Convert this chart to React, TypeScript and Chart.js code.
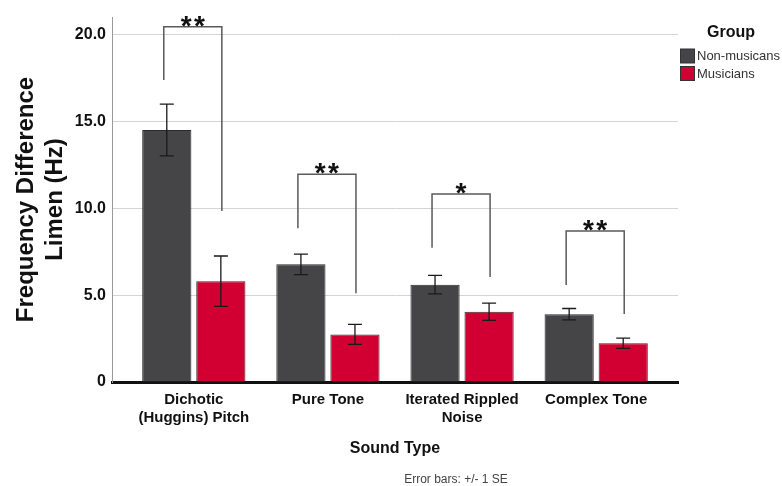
import React, { useEffect, useRef } from 'react';
import { Chart, registerables } from 'chart.js';

Chart.register(...registerables);

const FONT = "'Liberation Sans', Arial, Helvetica, sans-serif";

// Categories on the x axis (multi-line labels are arrays)
const soundTypes: (string | string[])[] = [
  ['Dichotic', '(Huggins) Pitch'],
  'Pure Tone',
  ['Iterated Rippled', 'Noise'],
  'Complex Tone',
];

const groupNames = ['Non-musicans', 'Musicians'];
const groupColors = ['#454547', '#d20032'];

// Mean frequency difference limens (Hz) and standard errors
const nonMusicianMeans = [14.5, 6.77, 5.6, 3.9];
const nonMusicianSE = [1.49, 0.59, 0.53, 0.33];
const musicianMeans = [5.8, 2.74, 4.04, 2.23];
const musicianSE = [1.45, 0.575, 0.5, 0.3];

// Significance brackets (y values in Hz)
const bracketTops = [20.44, 11.95, 10.82, 8.69];
const bracketLeftEnds = [17.38, 8.84, 7.73, 5.58];
const bracketRightEnds = [9.84, 5.1, 6.04, 3.91];
const significance = ['**', '**', '*', '**'];

const yTicks = [0, 5, 10, 15, 20];

const errorBarsPlugin = {
  id: 'errorBars',
  afterDatasetsDraw(chart: any) {
    const { ctx } = chart;
    const yScale = chart.scales.y;
    const seSets = [nonMusicianSE, musicianSE];
    const meanSets = [nonMusicianMeans, musicianMeans];
    ctx.save();
    ctx.strokeStyle = '#1a1a1a';
    ctx.lineWidth = 1.3;
    chart.data.datasets.forEach((_: any, di: number) => {
      const meta = chart.getDatasetMeta(di);
      meta.data.forEach((bar: any, i: number) => {
        const m = meanSets[di][i];
        const se = seSets[di][i];
        const yT = yScale.getPixelForValue(m + se);
        const yB = yScale.getPixelForValue(m - se);
        const x = bar.x;
        const cap = 7;
        ctx.beginPath();
        ctx.moveTo(x, yT);
        ctx.lineTo(x, yB);
        ctx.moveTo(x - cap, yT);
        ctx.lineTo(x + cap, yT);
        ctx.moveTo(x - cap, yB);
        ctx.lineTo(x + cap, yB);
        ctx.stroke();
      });
    });

    // significance brackets
    const m0 = chart.getDatasetMeta(0);
    const m1 = chart.getDatasetMeta(1);
    ctx.strokeStyle = '#5a5a5a';
    ctx.lineWidth = 1.5;
    bracketTops.forEach((top, i) => {
      const xl = m0.data[i].x - 3;
      const xr = m1.data[i].x + 1;
      const yt = yScale.getPixelForValue(top);
      ctx.beginPath();
      ctx.moveTo(xl, yScale.getPixelForValue(bracketLeftEnds[i]));
      ctx.lineTo(xl, yt);
      ctx.lineTo(xr, yt);
      ctx.lineTo(xr, yScale.getPixelForValue(bracketRightEnds[i]));
      ctx.stroke();
      ctx.fillStyle = '#111';
      ctx.font = `bold 28px ${FONT}`;
      ctx.textAlign = 'center';
      ctx.textBaseline = 'alphabetic';
      const label = significance[i].split('').join('\u200A');
      ctx.fillText(label, (xl + xr) / 2, yt + 8);
    });
    ctx.restore();
  },
};

const sideLegendPlugin = {
  id: 'sideLegend',
  afterDraw(chart: any) {
    const { ctx } = chart;
    ctx.save();
    ctx.fillStyle = '#111';
    ctx.font = `bold 16px ${FONT}`;
    ctx.textAlign = 'center';
    ctx.textBaseline = 'middle';
    ctx.fillText('Group', 731, 33);
    chart.data.datasets.forEach((ds: any, i: number) => {
      const top = 49 + i * 17.5;
      ctx.fillStyle = ds.backgroundColor;
      ctx.fillRect(680.5, top, 14, 14);
      ctx.strokeStyle = '#333';
      ctx.lineWidth = 1;
      ctx.strokeRect(680.5, top, 14, 14);
      ctx.fillStyle = '#333';
      ctx.font = `13px ${FONT}`;
      ctx.textAlign = 'left';
      ctx.fillText(ds.label, 697, top + 7.5);
    });
    ctx.fillStyle = '#444';
    ctx.font = `12px ${FONT}`;
    ctx.textAlign = 'center';
    ctx.fillText('Error bars: +/- 1 SE', 456, 480);
    ctx.restore();
  },
};

export default function App() {
  const canvasRef = useRef<HTMLCanvasElement | null>(null);

  useEffect(() => {
    if (!canvasRef.current) return;
    const chart = new Chart(canvasRef.current, {
      type: 'bar',
      data: {
        datasets: [
          {
            label: groupNames[0],
            data: nonMusicianMeans.map((y, i) => ({ x: i, y })),
            backgroundColor: groupColors[0],
            borderColor: '#2a2a2a',
            borderWidth: 1,
            categoryPercentage: 0.806,
            barPercentage: 0.91,
          },
          {
            label: groupNames[1],
            data: musicianMeans.map((y, i) => ({ x: i, y })),
            backgroundColor: groupColors[1],
            borderColor: '#3a2a2a',
            borderWidth: 1,
            categoryPercentage: 0.806,
            barPercentage: 0.91,
          },
        ],
      },
      options: {
        responsive: false,
        animation: false,
        devicePixelRatio: 1,
        layout: { padding: { top: 17, right: 104, bottom: 20, left: 0 } },
        plugins: {
          legend: { display: false },
          tooltip: { enabled: false },
        },
        scales: {
          x: {
            type: 'linear',
            offset: false,
            min: -0.61,
            max: 3.61,
            afterBuildTicks: (s: any) => {
              s.ticks = soundTypes.map((_, i) => ({ value: i }));
            },
            afterFit: (s: any) => {
              s.height = 84;
            },
            grid: { display: false, drawTicks: false, offset: false },
            border: { display: true, color: '#111', width: 3 },
            ticks: {
              callback: (v: any) => soundTypes[v as number],
              font: { family: FONT, size: 15, weight: 'bold', lineHeight: 1.2 },
              color: '#111',
              padding: 9,
              maxRotation: 0,
              autoSkip: false,
            },
            title: {
              display: true,
              text: 'Sound Type',
              font: { family: FONT, size: 16, weight: 'bold' },
              color: '#111',
              padding: { top: 0, bottom: 8 },
            },
          },
          y: {
            min: 0,
            max: 21,
            afterBuildTicks: (s: any) => {
              s.ticks = yTicks.map((v) => ({ value: v }));
            },
            afterFit: (s: any) => {
              s.width = 112;
            },
            grid: {
              color: (c: any) => (c.tick && c.tick.value === 0 ? 'rgba(0,0,0,0)' : '#d4d4d4'),
              drawTicks: false,
              lineWidth: 1,
            },
            border: { color: '#9a9a9a', width: 1 },
            ticks: {
              callback: (v: any) => (v === 0 ? '0' : Number(v).toFixed(1)),
              font: { family: FONT, size: 16, weight: 'bold' },
              color: '#111',
              padding: 6,
            },
            title: {
              display: true,
              text: ['Frequency Difference', 'Limen (Hz)'],
              font: { family: FONT, size: 24, weight: 'bold', lineHeight: 1.2 },
              color: '#111',
              padding: { top: 12, bottom: 0 },
            },
          },
        },
      },
      plugins: [errorBarsPlugin, sideLegendPlugin],
    } as any);
    return () => chart.destroy();
  }, []);

  return (
    <div style={{ position: 'absolute', left: 0, top: 0, width: 782, height: 486 }}>
      <canvas ref={canvasRef} width={782} height={486} style={{ display: 'block' }} />
    </div>
  );
}
